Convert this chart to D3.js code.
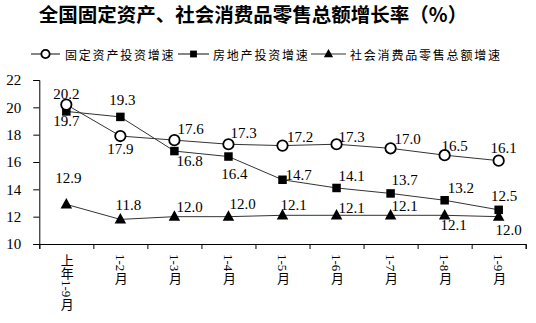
<!DOCTYPE html>
<html>
<head>
<meta charset="utf-8">
<script src="https://cdn.jsdelivr.net/npm/d3@7"></script>
<style>
  html, body { margin: 0; padding: 0; background: #fff; }
  svg { display: block; }
</style>
</head>
<body>
<div id="chart"></div>
<script>
// categories and series (%)
const categories = ['上年1-9月', '1-2月', '1-3月', '1-4月', '1-5月', '1-6月', '1-7月', '1-8月', '1-9月'];
const fixedAsset = [20.2, 17.9, 17.6, 17.3, 17.2, 17.3, 17.0, 16.5, 16.1];
const realEstate = [19.7, 19.3, 16.8, 16.4, 14.7, 14.1, 13.7, 13.2, 12.5];
const retail = [12.9, 11.8, 12.0, 12.0, 12.1, 12.1, 12.1, 12.1, 12.0];
const yTicks = [10, 12, 14, 16, 18, 20, 22];
const seriesNames = ['固定资产投资增速', '房地产投资增速', '社会消费品零售总额增速'];

const W = 536, H = 323;
const serif = "'Liberation Serif', 'Times New Roman', 'Noto Sans CJK SC', serif";
const cjk = "'Noto Sans CJK SC', sans-serif";

const svg = d3.select('#chart').append('svg')
  .attr('width', W).attr('height', H)
  .style('background', '#fff');

// Title
svg.append('text')
  .attr('x', 253).attr('y', 21.5)
  .attr('text-anchor', 'middle')
  .style('font-family', cjk)
  .style('font-size', '19.5px')
  .style('font-weight', '700')
  .text('全国固定资产、社会消费品零售总额增长率（%）');

// Scales
const x = d3.scaleBand().domain(categories).range([39.3, 525.7]).padding(0);
const xEdge = d3.scaleLinear().domain([0, categories.length]).range([39.3, 525.7]);
const y = d3.scaleLinear().domain([10, 22]).range([244, 80]);
const cx = d => x(d) + x.bandwidth() / 2;

// Y axis
const yAxis = svg.append('g')
  .attr('transform', 'translate(39.3,0)')
  .call(d3.axisLeft(y).tickValues(yTicks).tickSize(6).tickPadding(12).tickFormat(d3.format('d')));
yAxis.selectAll('path, line').attr('stroke', '#000');
yAxis.selectAll('text')
  .style('font-family', serif).style('font-size', '15px').attr('fill', '#000');

// X axis (ticks at band edges)
const xAxis = svg.append('g')
  .attr('transform', 'translate(0,244)')
  .call(d3.axisBottom(xEdge).tickValues(d3.range(categories.length + 1)).tickSize(5).tickFormat(''));
xAxis.selectAll('path, line').attr('stroke', '#000');

// X labels, vertical
svg.append('g').selectAll('text')
  .data(categories)
  .join('text')
  .attr('x', d => cx(d))
  .attr('y', 254)
  .style('writing-mode', 'vertical-rl')
  .style('font-family', serif)
  .style('font-size', '13px')
  .attr('fill', '#000')
  .text(d => d);

// Label offsets per series: [dx, dy, anchor]
const circleOff = [[0,-6,'middle'],[0,17.5,'middle'],[3,-6.5,'start'],[2,-6.5,'start'],[4.5,-4,'start'],[2,-2.6,'start'],[4,-4.5,'start'],[10,-4.3,'middle'],[5,-7.4,'middle']];
const squareOff = [[0,14.4,'middle'],[2,-12,'middle'],[2,14.5,'start'],[6,22,'middle'],[3,0,'start'],[2,-6.6,'start'],[1,-8,'start'],[3,-7.7,'start'],[5.5,-9,'middle']];
const triOff = [[2,-21,'middle'],[8,-9,'middle'],[2,-5,'start'],[1,-7.5,'start'],[11,-5,'middle'],[2,-2,'start'],[1,-4.4,'start'],[9,15,'middle'],[10,18.5,'middle']];

const line = d3.line().x((d, i) => cx(categories[i])).y(d => y(d));

function drawSeries(values, shape, offs) {
  const g = svg.append('g');
  g.append('path')
    .attr('d', line(values))
    .attr('fill', 'none')
    .attr('stroke', '#333')
    .attr('stroke-width', 1);

  const pts = g.selectAll('.pt').data(values).join('g')
    .attr('transform', (d, i) => `translate(${cx(categories[i])},${y(d)})`);
  drawMarker(pts, shape, 1);

  g.selectAll('.lbl').data(values).join('text')
    .attr('x', (d, i) => cx(categories[i]) + offs[i][0])
    .attr('y', (d, i) => y(d) + offs[i][1])
    .attr('text-anchor', (d, i) => offs[i][2])
    .style('font-family', serif)
    .style('font-size', '15px')
    .attr('fill', '#000')
    .text(d => d.toFixed(1));
}

function drawMarker(sel, shape, k) {
  if (shape === 'circle') {
    sel.append('circle').attr('r', 5.2 * k)
      .attr('fill', '#fff').attr('stroke', '#000').attr('stroke-width', 1.8);
  } else if (shape === 'square') {
    const s = 8.5 * k;
    sel.append('rect').attr('x', -s / 2).attr('y', -s / 2).attr('width', s).attr('height', s)
      .attr('fill', '#000');
  } else {
    const w = 11.5 * k, h = 10.5 * k;
    sel.append('path')
      .attr('d', `M0,${-h * 0.6}L${w / 2},${h * 0.4}L${-w / 2},${h * 0.4}Z`)
      .attr('fill', '#000');
  }
}

drawSeries(realEstate, 'square', squareOff);
drawSeries(fixedAsset, 'circle', circleOff);
drawSeries(retail, 'triangle', triOff);

// Legend
const legendItems = [
  { name: seriesNames[0], shape: 'circle', x0: 31, x1: 60, tx: 65 },
  { name: seriesNames[1], shape: 'square', x0: 178, x1: 209, tx: 213 },
  { name: seriesNames[2], shape: 'triangle', x0: 311, x1: 346, tx: 350 }
];
const lg = svg.append('g').attr('class', 'legend');
legendItems.forEach(it => {
  const ly = 54;
  lg.append('line')
    .attr('x1', it.x0).attr('x2', it.x1).attr('y1', ly).attr('y2', ly)
    .attr('stroke', '#333').attr('stroke-width', 1.2);
  const m = lg.append('g').attr('transform', `translate(${(it.x0 + it.x1) / 2},${ly})`);
  drawMarker(m, it.shape, 0.8);
  lg.append('text')
    .attr('x', it.tx).attr('y', ly)
    .attr('dominant-baseline', 'central')
    .style('font-family', cjk)
    .style('font-size', '12px')
    .style('letter-spacing', '1.8px')
    .attr('fill', '#000')
    .text(it.name);
});
</script>
</body>
</html>
